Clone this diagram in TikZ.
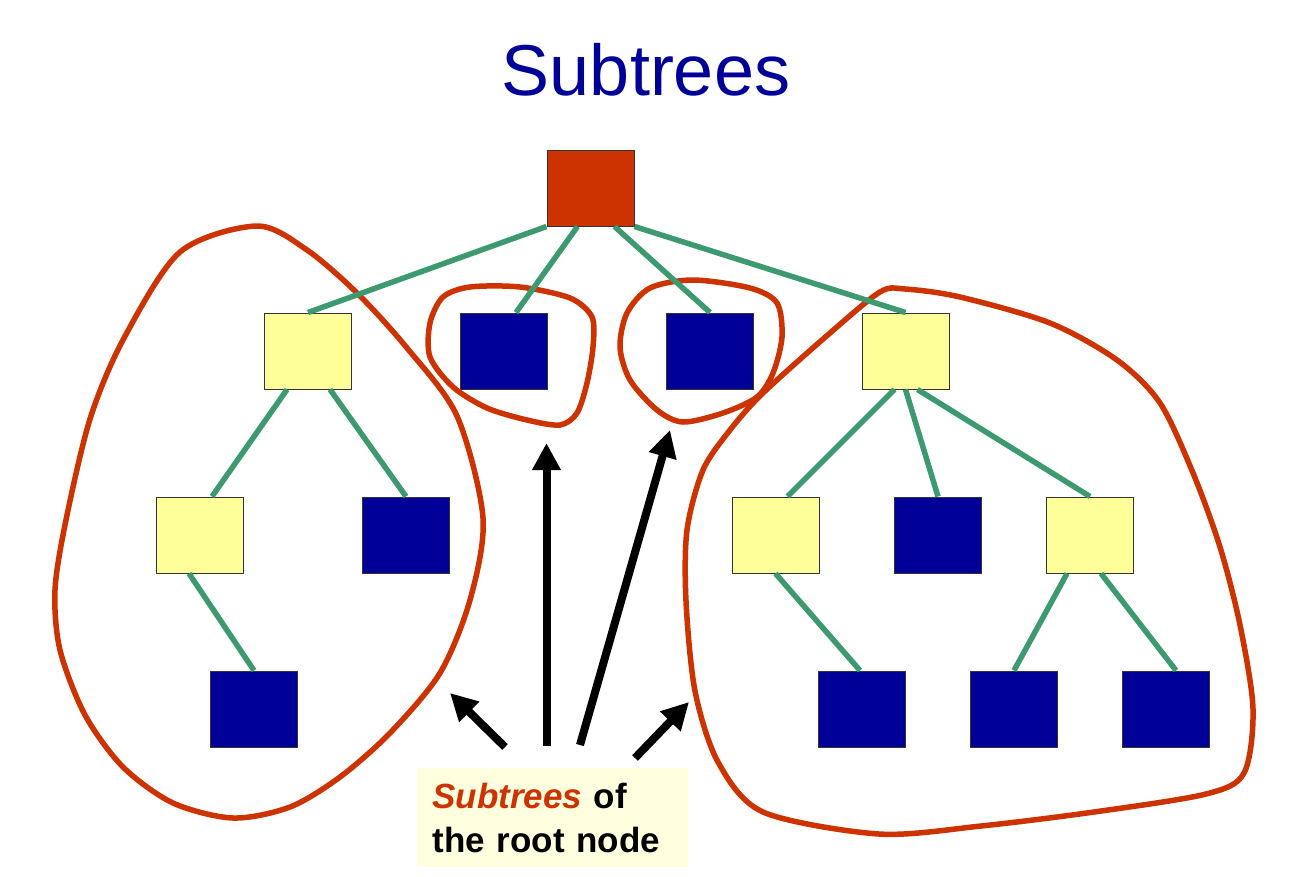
\documentclass[tikz,border=0pt]{standalone}
\usepackage{fontspec}
\setmainfont{Liberation Sans}
\usetikzlibrary{arrows.meta}
\definecolor{rootred}{RGB}{204,51,0}
\definecolor{nodeblue}{RGB}{0,0,153}
\definecolor{nodeyel}{RGB}{255,255,153}
\definecolor{edgegreen}{RGB}{61,153,112}
\definecolor{notefill}{RGB}{255,255,224}
\tikzstyle{bx}=[draw=black!80,line width=1pt,minimum width=87pt,minimum height=76pt,inner sep=0pt]
\tikzstyle{yb}=[bx,fill=nodeyel]
\tikzstyle{bb}=[bx,fill=nodeblue]
\tikzstyle{rb}=[bx,fill=rootred]
\tikzstyle{ln}=[edgegreen,line width=5.5pt]
\tikzstyle{ring}=[rootred,line width=5.5pt]
\tikzstyle{ar}=[-{Triangle[length=27pt,width=27pt]},line width=8pt]

\begin{document}
\begin{tikzpicture}[x=1pt,y=-1pt]
\useasboundingbox (0,0) rectangle (1295,876);
\node[nodeblue,font=\fontsize{72}{86}\selectfont,anchor=base] (title) at (646,95) {Subtrees};
% the tree
\node[rb] (root) at (590.5,188) {};
\node[yb] (A) at (308,351) {};
\node[bb] (B) at (504,351) {};
\node[bb] (C) at (710,351) {};
\node[yb] (D) at (905.5,351) {};
\node[yb] (E) at (200,535) {};
\node[bb] (F) at (406,535) {};
\node[yb] (G) at (775.5,535) {};
\node[bb] (H) at (938,535) {};
\node[yb] (I) at (1090,535) {};
\node[bb] (J) at (254,709) {};
\node[bb] (K) at (862,709) {};
\node[bb] (L) at (1014,709) {};
\node[bb] (M) at (1166,709) {};
% the subtrees
\draw[ring] plot[smooth cycle] coordinates {(257,226) (307,250) (357,293) (407,348) (457,416) (483,518) (470,600) (440,673) (390,733) (340,777) (290,807) (233,818) (173,803) (123,767) (85,715) (60,650) (55,590) (66,520) (90,419) (123,340) (180,252)};
\draw[ring] plot[smooth cycle] coordinates {(470,287) (520,287) (570,298) (592,317) (593,347) (587,383) (577,413) (560,425) (527,420) (487,408) (453,387) (430,357) (430,323) (443,297)};
\draw[ring] plot[smooth cycle] coordinates {(693,280) (750,288) (777,303) (782,337) (773,373) (757,397) (723,413) (683,422) (657,410) (630,380) (620,347) (627,313) (650,288)};
\draw[ring] plot[smooth cycle] coordinates {(905,289) (960,297) (1050,323) (1117,360) (1160,403) (1193,473) (1220,547) (1240,625) (1253,709) (1244,773) (1206,794) (1094,812) (981,826) (879,834) (763,812) (718,762) (695,691) (686,601) (687,530) (703,470) (730,430) (763,393) (830,333) (880,292)};
% edges
\draw[ln] (root.south west) -- (A.north);
\draw[ln] ([xshift=-13pt]root.south) -- ([xshift=12pt]B.north);
\draw[ln] ([xshift=24pt]root.south) -- (C.north);
\draw[ln] (root.south east) -- (D.north);
\draw[ln] ([xshift=-21pt]A.south) -- ([xshift=12pt]E.north);
\draw[ln] ([xshift=22pt]A.south) -- (F.north);
\draw[ln] ([xshift=-11pt]E.south) -- (J.north);
\draw[ln] ([xshift=-11pt]D.south) -- ([xshift=12pt]G.north);
\draw[ln] (D.south) -- (H.north);
\draw[ln] ([xshift=12pt]D.south) -- (I.north);
\draw[ln] (G.south) -- ([xshift=-2pt]K.north);
\draw[ln] ([xshift=-23pt]I.south) -- (L.north);
\draw[ln] ([xshift=11pt]I.south) -- ([xshift=10pt]M.north);
% label and arrows
\node[fill=notefill,minimum width=271pt,minimum height=99pt,text width=240pt,align=left,font=\bfseries\fontsize{35}{44}\selectfont] (lbl) at (552.5,817.5) {\textcolor{rootred}{\itshape Subtrees} of\\the root node};
\coordinate (t1) at (505,747);
\coordinate (t2) at (546.5,746);
\coordinate (t3) at (580,745);
\coordinate (t4) at (635,758);
\coordinate (h1) at (450,693);
\coordinate (h2) at (546.5,443);
\coordinate (h3) at (670,430);
\coordinate (h4) at (689,702);
\draw[ar] (t1) -- (h1);
\draw[ar] (t2) -- (h2);
\draw[ar] (t3) -- (h3);
\draw[ar] (t4) -- (h4);
\end{tikzpicture}
\end{document}
